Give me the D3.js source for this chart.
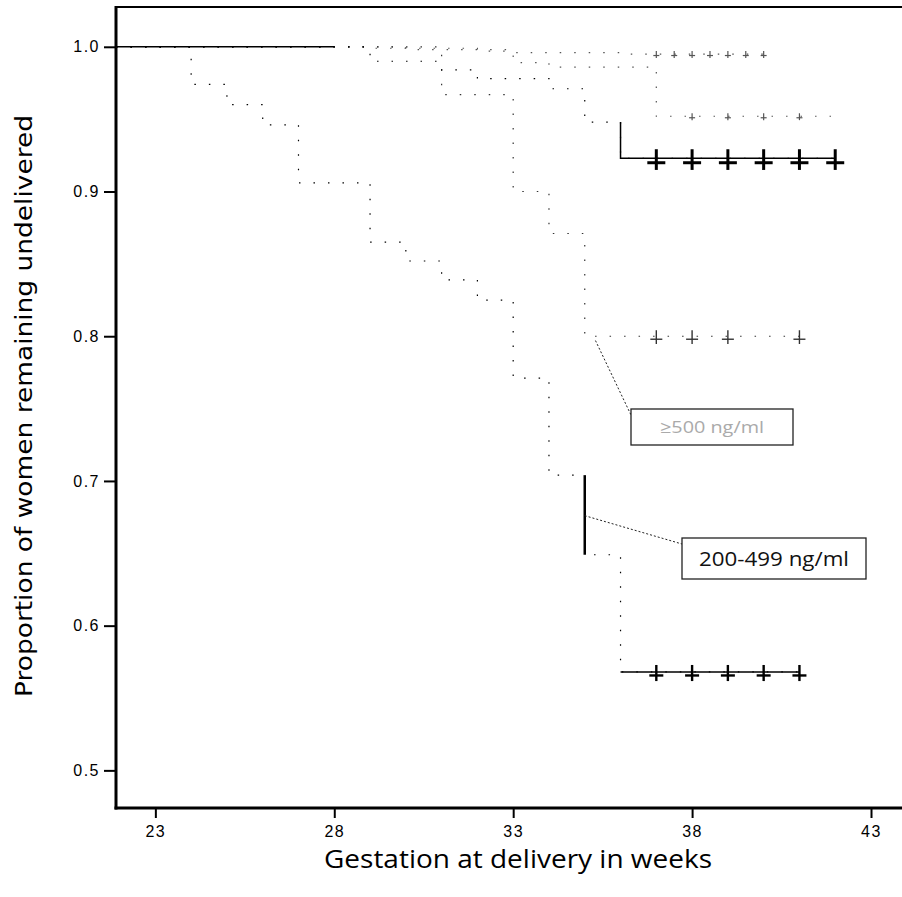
<!DOCTYPE html>
<html><head>
<meta charset="utf-8">
<script src="https://d3js.org/d3.v7.min.js"></script>
<style>
  body { margin: 0; background: #fff; }
  .tick text { font-family: "Liberation Sans", Arial, sans-serif; font-size: 16px; letter-spacing: 1.5px; fill: #000; }
  .tick line { stroke: #000; stroke-width: 2; }
  .domain { stroke: none; }
</style>
</head>
<body>
<svg id="svg1" width="902" height="897"></svg>
<script>

// tick values
const xTicks = [23, 28, 33, 38, 43];
const yTicks = [0.5, 0.6, 0.7, 0.8, 0.9, 1.0];

// KM curves: step times (weeks), survival after each step, last follow-up, censored times
// 200-499 ng/ml
const b_times  = [24, 25, 26, 27, 29, 30, 31, 32, 33, 34, 35, 36];
const b_surv   = [0.974, 0.960, 0.946, 0.906, 0.865, 0.852, 0.839, 0.825, 0.771, 0.704, 0.649, 0.568];
const b_end    = 41;
const b_censor = [37, 38, 39, 40, 41];

// lowest concentration group (ends ~0.92)
const c_times  = [29, 31, 32, 34, 35, 36];
const c_surv   = [0.990, 0.984, 0.978, 0.971, 0.948, 0.923];
const c_end    = 42;
const c_censor = [37, 38, 39, 40, 41, 42];

// >=500 ng/ml
const e_times  = [31, 33, 34, 35];
const e_surv   = [0.967, 0.900, 0.871, 0.800];
const e_end    = 41;
const e_censor = [37, 38, 39, 41];

// faint group near the top
const a_times  = [29, 32, 33, 36];
const a_surv   = [0.999, 0.997, 0.996, 0.995];
const a_end    = 40;
const a_censor = [37, 37.5, 38, 38.5, 39, 39.5, 40];

// faint group ending ~0.95
const d_times  = [30, 33, 34, 37];
const d_surv   = [0.998, 0.989, 0.986, 0.952];
const d_end    = 42;
const d_censor = [38, 39, 40, 41];

let svg1 = d3.select("svg#svg1");
const plotLeft = 116, plotTop = 7, plotBottom = 808, plotRight = 905;

let xScale = d3.scaleLinear().domain([21.9, 43.95]).range([plotLeft, plotRight]);
let yScale = d3.scaleLinear().domain([0.474, 1.0275]).range([plotBottom, plotTop]);

function buildPoints(times, surv, end) {
  let pts = [[xScale.domain()[0], 1.0]];
  times.forEach((t, i) => pts.push([t, surv[i]]));
  pts.push([end, surv[surv.length - 1]]);
  return pts;
}
function survAt(times, surv, t) {
  let v = 1.0;
  times.forEach((tt, i) => { if (tt <= t) v = surv[i]; });
  return v;
}

const series = [
  {times: a_times, surv: a_surv, end: a_end, censor: a_censor, kind: "faint"},
  {times: d_times, surv: d_surv, end: d_end, censor: d_censor, kind: "faint"},
  {times: e_times, surv: e_surv, end: e_end, censor: e_censor, kind: "mid"},
  {times: c_times, surv: c_surv, end: c_end, censor: c_censor, kind: "bold", solidFrom: 36, solidDrop: true, solidHead: true},
  {times: b_times, surv: b_surv, end: b_end, censor: b_censor, kind: "bold2", solidFrom: 36, solidDrop: false}
];

let lineGen = d3.line()
  .curve(d3.curveStepAfter)
  .x(d => xScale(d[0]))
  .y(d => yScale(d[1]));

// axes
let annotations = svg1.append("g");

annotations.append("g")
  .attr("transform", `translate(${plotLeft},0)`)
  .call(d3.axisLeft(yScale).tickValues(yTicks).tickSize(12).tickPadding(4).tickFormat(d3.format(".1f")));

annotations.append("g")
  .attr("transform", `translate(0,${plotBottom})`)
  .call(d3.axisBottom(xScale).tickValues(xTicks).tickSize(10).tickPadding(8).tickFormat(d => "" + d));

// frame
annotations.append("line").attr("x1", plotLeft).attr("x2", plotRight).attr("y1", plotTop).attr("y2", plotTop)
  .attr("stroke", "#000").attr("stroke-width", 2);
annotations.append("line").attr("x1", plotLeft).attr("x2", plotLeft).attr("y1", plotTop - 1).attr("y2", plotBottom + 1.5)
  .attr("stroke", "#000").attr("stroke-width", 3);
annotations.append("line").attr("x1", plotLeft - 1.5).attr("x2", plotRight).attr("y1", plotBottom).attr("y2", plotBottom)
  .attr("stroke", "#000").attr("stroke-width", 3);

// curves
let chartArea = svg1.append("g").attr("id", "curves");

const styles = {
  faint: {stroke: "#555", width: 1.2, cross: 3, cw: 1.2},
  mid:   {stroke: "#333", width: 1.2, cross: 6, cw: 1.4},
  bold:  {stroke: "#000", width: 1.5, cross: 9, cw: 3},
  bold2: {stroke: "#000", width: 1.5, cross: 7, cw: 2.4}
};
const dotted = "1.5 13";

series.forEach(s => {
  const st = styles[s.kind];
  const pts = buildPoints(s.times, s.surv, s.end);

  // whole curve, dotted
  chartArea.append("path")
    .attr("fill", "none")
    .attr("stroke", st.stroke)
    .attr("stroke-width", 1.2)
    .attr("stroke-dasharray", dotted)
    .attr("d", lineGen(pts));

  // solid tail from the last step to the end of follow-up
  if (s.solidFrom !== undefined) {
    const before = survAt(s.times, s.surv, s.solidFrom - 0.001);
    const after = survAt(s.times, s.surv, s.solidFrom);
    const tail = (s.solidDrop ? [[s.solidFrom, before]] : []).concat([[s.solidFrom, after], [s.end, after]]);
    chartArea.append("path")
      .attr("fill", "none")
      .attr("stroke", st.stroke)
      .attr("stroke-width", st.width)
      .attr("d", lineGen(tail));
  }
  // solid head at 1.0 until the year before the first step
  if (s.solidHead) {
    chartArea.append("path")
      .attr("fill", "none")
      .attr("stroke", st.stroke)
      .attr("stroke-width", st.width)
      .attr("d", lineGen([pts[0], [s.times[0] - 1, 1.0]]));
  }

  let marks = chartArea.selectAll(null).data(s.censor).join("g")
    .attr("transform", d => `translate(${xScale(d)},${yScale(survAt(s.times, s.surv, d))})`);
  marks.append("line")
    .attr("x1", 0).attr("x2", 0).attr("y1", -st.cross).attr("y2", st.cross * 1.3)
    .attr("stroke", st.stroke).attr("stroke-width", st.cw);
  marks.append("line")
    .attr("x1", -st.cross).attr("x2", st.cross).attr("y1", st.cross * 0.5).attr("y2", st.cross * 0.5)
    .attr("stroke", st.stroke).attr("stroke-width", st.cw);
});

// thick drop of the 200-499 curve at week 35 (where its label points)
chartArea.append("line")
  .attr("x1", xScale(35)).attr("x2", xScale(35))
  .attr("y1", yScale(survAt(b_times, b_surv, 34))).attr("y2", yScale(survAt(b_times, b_surv, 35)))
  .attr("stroke", "#000").attr("stroke-width", 2.5);

// curve labels
function labelBox(text, bx, by, bw, bh, px, py, color, fs, tl) {
  svg1.append("line")
    .attr("x1", px).attr("y1", py).attr("x2", bx).attr("y2", by + 6)
    .attr("stroke", "#222").attr("stroke-width", 1).attr("stroke-dasharray", "2 2");
  svg1.append("rect")
    .attr("x", bx).attr("y", by).attr("width", bw).attr("height", bh)
    .attr("fill", "#fff").attr("stroke", "#222").attr("stroke-width", 1.3);
  svg1.append("text")
    .attr("x", bx + bw / 2).attr("y", by + bh / 2 + fs * 0.36)
    .attr("text-anchor", "middle")
    .attr("font-family", "'Open Sans', 'Noto Sans', sans-serif")
    .attr("font-size", fs).attr("fill", color)
    .attr("textLength", tl).attr("lengthAdjust", "spacingAndGlyphs")
    .text(text);
}
labelBox("≥500 ng/ml", 631, 409, 162, 36, xScale(35.3), yScale(0.797), "#aaa", 17, 104);
labelBox("200-499 ng/ml", 682, 538, 184, 41, xScale(35), yScale(0.676), "#111", 20, 150);

// axis titles
svg1.append("text")
  .attr("x", 518).attr("y", 868)
  .attr("text-anchor", "middle")
  .attr("font-family", "'Open Sans', 'Noto Sans', sans-serif")
  .attr("font-size", 25)
  .attr("textLength", 388).attr("lengthAdjust", "spacingAndGlyphs")
  .text("Gestation at delivery in weeks");

svg1.append("text")
  .attr("transform", "translate(32,406) rotate(-90)")
  .attr("text-anchor", "middle")
  .attr("font-family", "'DejaVu Sans', Verdana, sans-serif")
  .attr("font-size", 23)
  .attr("textLength", 582).attr("lengthAdjust", "spacingAndGlyphs")
  .text("Proportion of women remaining undelivered");

</script>
</body></html>
